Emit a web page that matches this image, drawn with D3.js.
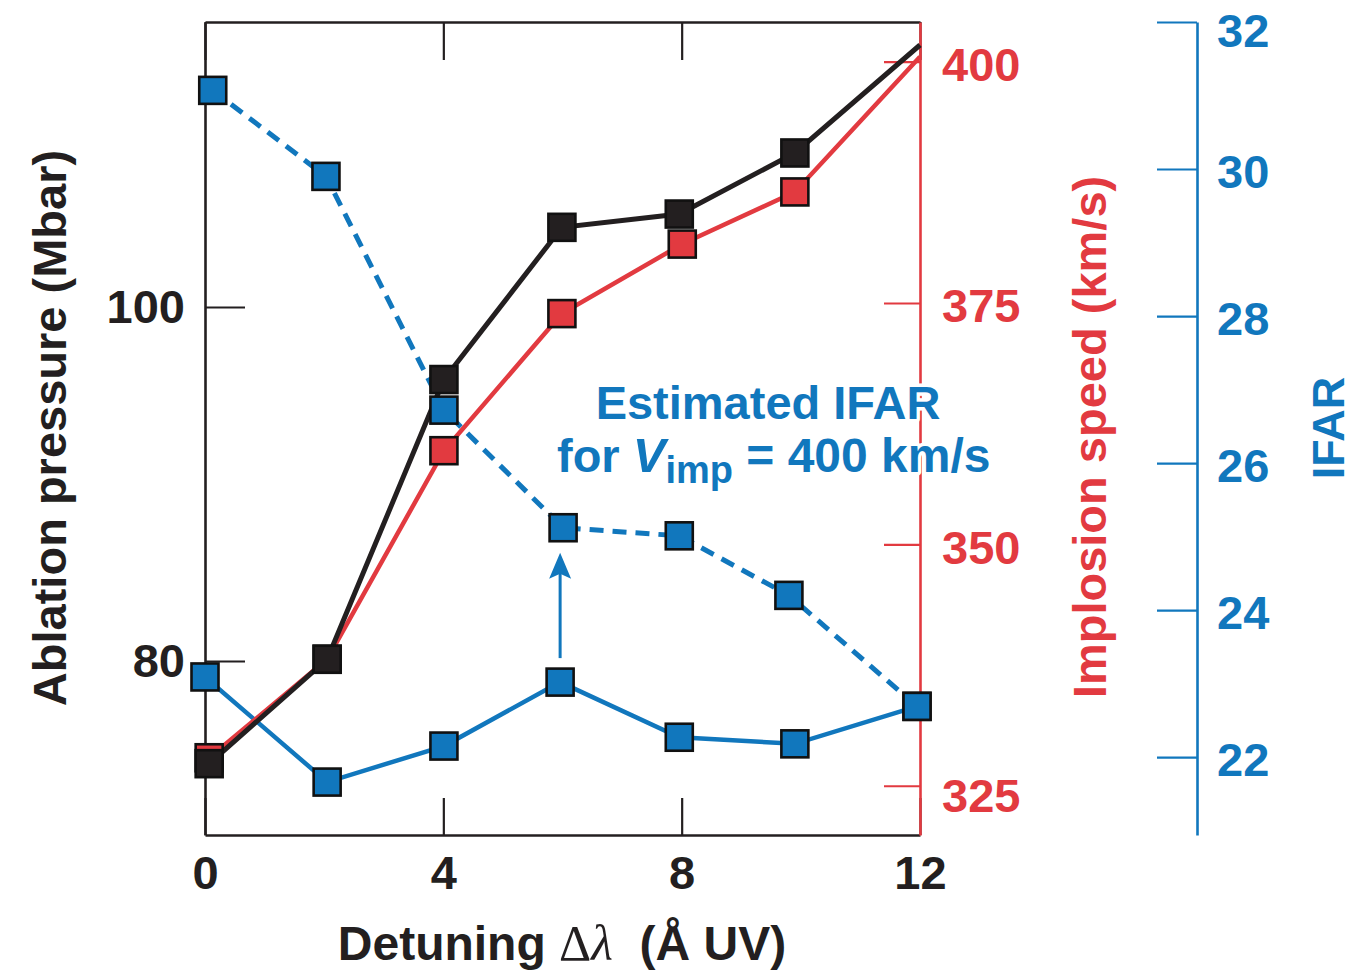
<!DOCTYPE html>
<html>
<head>
<meta charset="utf-8">
<script src="https://cdn.jsdelivr.net/npm/d3@7"></script>
<style>
  html, body { margin: 0; padding: 0; background: #fff; }
  svg { display: block; font-family: "Liberation Sans", Arial, Helvetica, sans-serif; font-weight: bold; }
</style>
</head>
<body>
<svg id="chart" width="1353" height="973"></svg>
<script>
// ---- data ----
const xTicks = [0, 4, 8, 12];
const pressureTicks = [80, 100];
const speedTicks = [325, 350, 375, 400];
const ifarTicks = [22, 24, 26, 28, 30, 32];

const pressureX = [0.07, 2.05, 4.01, 5.99, 7.96, 9.9, 12];
const pressure  = [74.2, 80.1, 95.9, 104.5, 105.25, 108.7, 114.8];
const speedX    = [0.07, 2.05, 4.01, 5.99, 8.01, 9.9, 12];
const speed     = [327.9, 338.1, 359.7, 373.9, 381.1, 386.5, 400.5];
const ifarX     = [0, 2.05, 4.01, 5.96, 7.96, 9.9, 11.95];
const ifar      = [23.09, 21.66, 22.15, 23.02, 22.27, 22.18, 22.69];
const ifarEstX  = [0.13, 2.03, 4.01, 6.01, 7.96, 9.8, 11.95];
const ifarEst   = [31.07, 29.9, 26.72, 25.12, 25.01, 24.2, 22.69];
const markedPoints = 6; // pressure & speed: markers on first six points only

// ---- style ----
const BLUE = "#1177bd", RED = "#e23a40", BLACK = "#231f20";
const FS = 47;

const svg = d3.select("#chart");
svg.append("rect").attr("width", 1353).attr("height", 973).attr("fill", "#fff");

const L = 205, R = 920, T = 22, B = 835, RB = 1197;
const x  = d3.scaleLinear().domain([0, 12]).range([L, R]);
const yP = d3.scaleLinear().domain([70.17, 116.1]).range([B, T]);
const yV = d3.scaleLinear().domain([319.9, 404.1]).range([B, T]);
const yI = d3.scaleLinear().domain([20.94, 32]).range([B, T]);

function styleAxis(g, color, width, dy) {
  g.select(".domain").attr("stroke", color).attr("stroke-width", width);
  g.selectAll(".tick line").attr("stroke", color).attr("stroke-width", 2.2);
  const t = g.selectAll(".tick text").attr("fill", color).attr("font-size", FS)
    .attr("font-family", "Liberation Sans, Arial, sans-serif").attr("font-weight", "bold");
  if (dy) t.attr("dy", dy);
}

// bottom axis
const gB = svg.append("g").attr("transform", `translate(0,${B})`)
  .call(d3.axisBottom(x).tickValues(xTicks).tickFormat(d3.format("d")).tickSizeInner(-37).tickSizeOuter(0).tickPadding(21));
styleAxis(gB, BLACK, 2.6);
// top axis (frame)
const gT = svg.append("g").attr("transform", `translate(0,${T})`)
  .call(d3.axisTop(x).tickValues(xTicks).tickFormat("").tickSizeInner(-38).tickSizeOuter(0));
styleAxis(gT, BLACK, 2.6);
// left axis
const gL = svg.append("g").attr("transform", `translate(${L},0)`)
  .call(d3.axisLeft(yP).tickValues(pressureTicks).tickFormat(d3.format("d")).tickSizeInner(-40).tickSizeOuter(0).tickPadding(20));
styleAxis(gL, BLACK, 2.6);
// red right axis
const gR = svg.append("g").attr("transform", `translate(${R},0)`)
  .call(d3.axisRight(yV).tickValues(speedTicks).tickFormat(d3.format("d")).tickSizeInner(-36).tickSizeOuter(0).tickPadding(22));
styleAxis(gR, RED, 2.6, "0.4em");
gR.selectAll(".tick text").filter(d => d === 325).attr("dy", "0.55em");
// blue IFAR axis
const gI = svg.append("g").attr("transform", `translate(${RB},0)`)
  .call(d3.axisRight(yI).tickValues(ifarTicks).tickFormat(d3.format("d")).tickSizeInner(-40).tickSizeOuter(0).tickPadding(20));
styleAxis(gI, BLUE, 2.6, "0.4em");
gI.selectAll(".tick text").filter(d => d === 32).attr("dy", "0.52em");

// ---- lines ----
const line = (xs, ys, ysc) => d3.line().x((d, i) => x(xs[i])).y((d, i) => ysc(ys[i]))(ys);

svg.append("path").attr("d", line(ifarEstX, ifarEst, yI)).attr("fill", "none")
  .attr("stroke", BLUE).attr("stroke-width", 5).attr("stroke-dasharray", "14 9");
svg.append("path").attr("d", line(ifarX, ifar, yI)).attr("fill", "none")
  .attr("stroke", BLUE).attr("stroke-width", 4.5);
svg.append("path").attr("d", line(speedX, speed, yV)).attr("fill", "none")
  .attr("stroke", RED).attr("stroke-width", 4.5);
svg.append("path").attr("d", line(pressureX, pressure, yP)).attr("fill", "none")
  .attr("stroke", BLACK).attr("stroke-width", 5);

// ---- markers ----
const MS = 27;
function markers(xs, ys, ysc, color, n) {
  svg.append("g").selectAll("rect").data(ys.slice(0, n)).join("rect")
    .attr("x", (d, i) => x(xs[i]) - MS / 2)
    .attr("y", d => ysc(d) - MS / 2)
    .attr("width", MS).attr("height", MS)
    .attr("fill", color).attr("stroke", "#111").attr("stroke-width", 2.6);
}
markers(speedX, speed, yV, RED, markedPoints);
markers(pressureX, pressure, yP, BLACK, markedPoints);
markers(ifarEstX, ifarEst, yI, BLUE, ifarEst.length);
markers(ifarX, ifar, yI, BLUE, ifar.length);

// ---- arrow from IFAR to estimated IFAR at x = 6 ----
const ax = x(ifarX[3]);
const ay0 = yI(ifar[3]) - 24, ay1 = yI(ifarEst[3]) + 25;
svg.append("line").attr("x1", ax).attr("x2", ax).attr("y1", ay0).attr("y2", ay1 + 20)
  .attr("stroke", BLUE).attr("stroke-width", 3);
svg.append("path")
  .attr("d", `M${ax},${ay1} L${ax - 11},${ay1 + 26} L${ax},${ay1 + 21} L${ax + 11},${ay1 + 26} Z`)
  .attr("fill", BLUE);

// ---- annotation ----
const ann = svg.append("g").attr("fill", BLUE).attr("font-size", FS)
  .attr("stroke", "#fff").attr("stroke-width", 7).attr("paint-order", "stroke")
  .attr("stroke-linejoin", "round");
ann.append("text").attr("x", 768).attr("y", 419).attr("text-anchor", "middle").text("Estimated IFAR");
const t2 = ann.append("text").attr("x", 557).attr("y", 472);
t2.append("tspan").text("for ");
t2.append("tspan").attr("font-style", "italic").attr("font-size", 49).text("V");
t2.append("tspan").attr("font-size", 38).attr("dy", 11).text("imp");
t2.append("tspan").attr("dy", -11).attr("font-size", 48).text(" = 400 km/s");

// ---- axis titles ----
svg.append("text").attr("transform", "translate(66,428) rotate(-90)")
  .attr("text-anchor", "middle").attr("font-size", FS).attr("fill", BLACK)
  .text("Ablation pressure (Mbar)");
svg.append("text").attr("transform", "translate(1106,437) rotate(-90)")
  .attr("text-anchor", "middle").attr("font-size", FS).attr("fill", RED)
  .text("Implosion speed (km/s)");
svg.append("text").attr("transform", "translate(1344,428) rotate(-90)")
  .attr("text-anchor", "middle").attr("font-size", 45).attr("fill", BLUE)
  .text("IFAR");

const xt = svg.append("text").attr("x", 562).attr("y", 960).attr("text-anchor", "middle")
  .attr("font-size", 48).attr("fill", BLACK);
xt.append("tspan").text("Detuning ");
xt.append("tspan").attr("font-family", "Liberation Serif, serif").attr("font-weight", "normal").attr("font-size", 50).text("Δ");
xt.append("tspan").attr("font-family", "Liberation Serif, serif").attr("font-style", "italic").attr("font-weight", "normal").attr("font-size", 50).text("λ");
xt.append("tspan").text("\u00a0\u00a0(Å UV)");
</script>
</body>
</html>
